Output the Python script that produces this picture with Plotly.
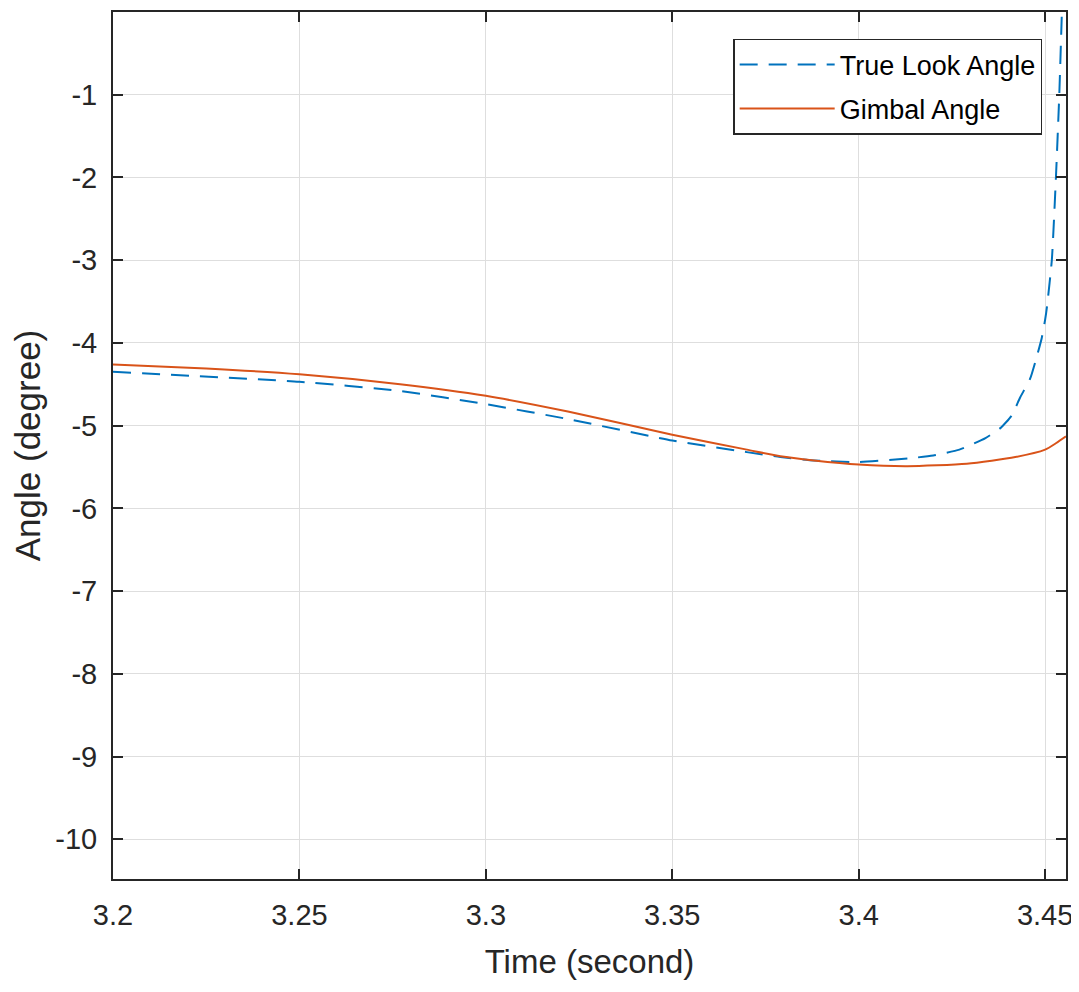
import plotly.graph_objects as go

# Gimbal angle (orange, solid)
t_gimbal = [3.200, 3.225, 3.250, 3.277, 3.300, 3.322, 3.350, 3.370, 3.379, 3.388,
            3.400, 3.413, 3.429, 3.442, 3.450, 3.453, 3.4556]
gimbal = [-4.26, -4.31, -4.38, -4.50, -4.64, -4.83, -5.11, -5.29, -5.37, -5.42,
          -5.47, -5.49, -5.46, -5.38, -5.29, -5.21, -5.13]

# True look angle (blue, dashed)
t_true = [3.200, 3.250, 3.277, 3.300, 3.322, 3.350, 3.370, 3.379, 3.388, 3.400,
          3.4146, 3.420, 3.427, 3.434, 3.438, 3.441, 3.4433, 3.446, 3.4478, 3.4491,
          3.4500, 3.4505, 3.4518, 3.4529, 3.4538, 3.4545, 3.4550]
true_look = [-4.35, -4.47, -4.58, -4.74, -4.92, -5.18, -5.32, -5.38, -5.42, -5.44,
             -5.39, -5.36, -5.29, -5.15, -5.03, -4.88, -4.66, -4.43, -4.16, -3.94,
             -3.72, -3.56, -3.00, -2.00, -1.00, 0.00, 0.60]

x_ticks = [3.2, 3.25, 3.3, 3.35, 3.4, 3.45]
x_tick_labels = ["3.2", "3.25", "3.3", "3.35", "3.4", "3.45"]
y_ticks = [-10, -9, -8, -7, -6, -5, -4, -3, -2, -1]
y_tick_labels = ["-10", "-9", "-8", "-7", "-6", "-5", "-4", "-3", "-2", "-1"]

FONT = "Liberation Sans, Arial, Helvetica, sans-serif"
AXC = "#262626"

fig = go.Figure()
fig.add_trace(go.Scatter(
    x=t_true, y=true_look, mode="lines", name="True Look Angle", legendgroup="a",
    line=dict(color="#0072BD", width=2, dash="18px,11px", shape="spline", smoothing=0.5),
))
fig.add_trace(go.Scatter(
    x=t_gimbal, y=gimbal, mode="lines", name="Gimbal Angle", legendgroup="b",
    line=dict(color="#D95319", width=2, shape="spline", smoothing=0.6),
))

axis_common = dict(
    showline=True, linecolor=AXC, linewidth=2, mirror="ticks",
    ticks="inside", ticklen=10, tickwidth=2, tickcolor=AXC,
    showgrid=True, gridcolor="#dedede", gridwidth=1, zeroline=False,
    tickfont=dict(family=FONT, size=29, color=AXC),
)

# page body has an 8px margin: figure is offset by (8, 8)
fig.update_layout(
    width=1071, height=984,
    paper_bgcolor="white", plot_bgcolor="white",
    margin=dict(l=105, r=13, t=2, b=113),
    font=dict(family=FONT, color=AXC),
    xaxis=dict(range=[3.2, 3.4556], tickvals=x_ticks, ticktext=x_tick_labels,
               ticklabelstandoff=9,
               title=dict(text="Time (second)", font=dict(family=FONT, size=33, color=AXC),
                          standoff=20),
               **axis_common),
    yaxis=dict(range=[-10.48, 0.0], tickvals=y_ticks, ticktext=y_tick_labels,
               ticklabelstandoff=8,
               title=dict(text="Angle (degree)", font=dict(family=FONT, size=35, color=AXC),
                          standoff=8),
               **axis_common),
    legend=dict(x=0.975, y=0.969, xanchor="right", yanchor="top",
                bgcolor="white", bordercolor=AXC, borderwidth=1.5,
                font=dict(family=FONT, size=27, color="black"),
                itemwidth=95, traceorder="grouped", tracegroupgap=6),
    showlegend=True,
)

fig.write_html("out.html")
